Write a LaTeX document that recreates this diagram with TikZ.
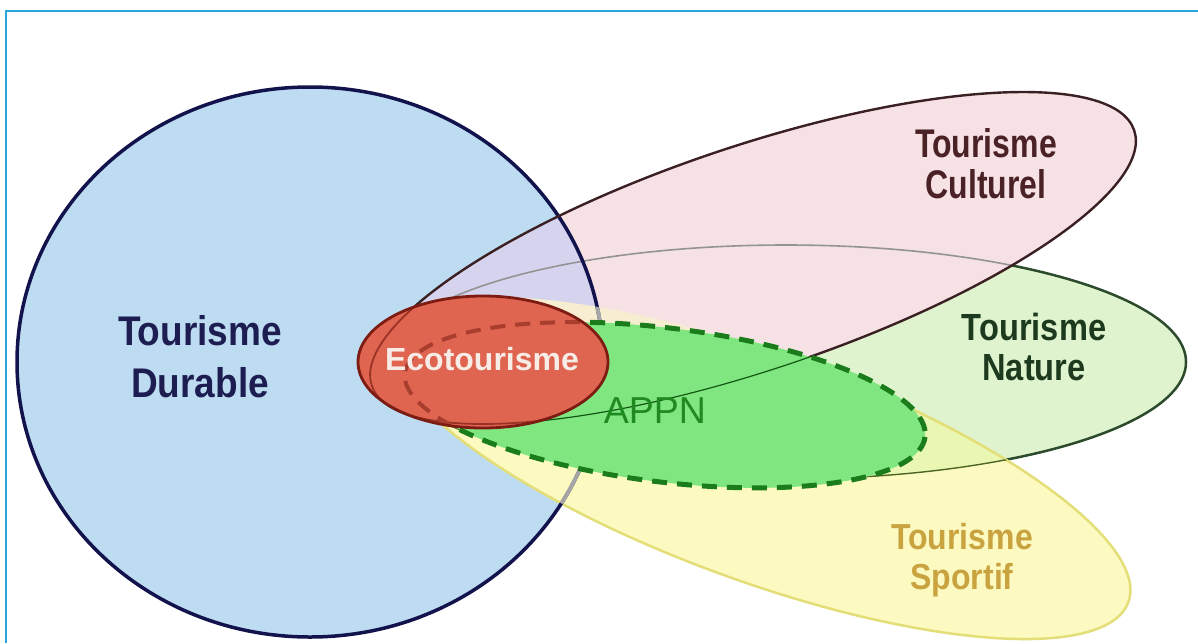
\documentclass[tikz,border=0pt]{standalone}
\usepackage{fontspec}
\setmainfont{Liberation Sans}
\usepackage{graphicx}
% fills
\definecolor{cBlue}{HTML}{BDDCF1}
\definecolor{cLav}{HTML}{D6D3EE}
\definecolor{cNat}{HTML}{DFF4CE}
\definecolor{cSport}{HTML}{FCFAC0}
\definecolor{cNatSport}{HTML}{EAF7B2}
\definecolor{cCult}{HTML}{F6E1E4}
\definecolor{cCream}{HTML}{F7EED2}
\definecolor{cAppn}{HTML}{80E780}
\definecolor{cEco}{HTML}{E06551}
% strokes
\definecolor{lBlue}{HTML}{12134C}
\definecolor{lNat}{HTML}{2C4A2C}
\definecolor{lSport}{HTML}{E4DE78}
\definecolor{lCult}{HTML}{3B2023}
\definecolor{lAppn}{HTML}{1A7C1A}
\definecolor{lEco}{HTML}{7C1C12}
\definecolor{lFrame}{HTML}{2AA6DF}
% labels
\definecolor{tDur}{HTML}{1D1D52}
\definecolor{tCult}{HTML}{4A2226}
\definecolor{tNat}{HTML}{1E3A1E}
\definecolor{tSport}{HTML}{C9A33F}
\definecolor{tEco}{HTML}{F8ECE6}
\definecolor{tAppn}{HTML}{1F8A1F}

\begin{document}
\begin{tikzpicture}[x=1pt,y=-1pt,
  cultT/.style={rotate around={18.5:(753,258)}},
  sportT/.style={rotate around={-20:(760,468)}},
  appnT/.style={rotate around={-7:(665,405)}},
  blueline/.style={draw=lBlue,line width=3.5},
  bluegrey/.style={draw=black!35,line width=3.8},
  natline/.style={draw=lNat,line width=2.5},
  natthin/.style={draw=lNat!85!yellow,line width=1.4},
  natgrey/.style={draw=black!42,line width=1.6},
  sportline/.style={draw=lSport,line width=2.5},
  cultline/.style={draw=lCult,line width=2.4},
  cultthin/.style={draw=lAppn!70!black,line width=1.2},
  appnline/.style={draw=lAppn,line width=5,dash pattern=on 15 off 10},
  ecoline/.style={draw=lEco,line width=2.8},
  ecoghost/.style={draw=lEco!70!cEco,line width=1.8},
  ecoghostdash/.style={draw=lEco!55!cEco,line width=4,dash pattern=on 15 off 10},
  frame/.style={draw=lFrame,line width=2.5},
  lab/.style={inner sep=0pt,anchor=base},
  big/.style={font=\fontsize{#1}{#1}\selectfont\bfseries},
]
\def\pBlue{(310,362) ellipse [x radius=293, y radius=275]}
\def\pNat{(786,362) ellipse [x radius=400, y radius=117]}
\def\pCult{(753,258) ellipse [x radius=402, y radius=112]}
\def\pSport{(760,468) ellipse [x radius=392, y radius=113]}
\def\pAppn{(665,405) ellipse [x radius=262, y radius=77]}
\def\pEco{(483,362) ellipse [x radius=125, y radius=66]}

\useasboundingbox (0,0) rectangle (1198,643);
\fill[white] (0,0) rectangle (1198,643);

% Tourisme Durable
\fill[cBlue] \pBlue;

% Tourisme Nature
\fill[cNat] \pNat;
\draw[natline] \pNat;

% Tourisme Sportif
\fill[cSport,sportT] \pSport;
\begin{scope}
  \clip \pNat;
  \fill[cNatSport,sportT] \pSport;
\end{scope}
\draw[sportline,sportT] \pSport;
\begin{scope}
  \clip[sportT] \pSport;
  \draw[natthin] \pNat;
\end{scope}

% Tourisme Culturel
\fill[cCult,cultT] \pCult;
\begin{scope}
  \clip[cultT] \pCult;
  \fill[cLav] \pBlue;
  \fill[cCream,sportT] \pSport;
  \draw[natgrey] \pNat;
\end{scope}

% outline of the large circle, faded where the sport area covers it
\draw[blueline] \pBlue;
\begin{scope}
  \clip[sportT] \pSport;
  \draw[bluegrey] \pBlue;
\end{scope}
\draw[cultline,cultT] \pCult;

% APPN
\fill[cAppn,appnT] \pAppn;
\begin{scope}
  \clip[appnT] \pAppn;
  \draw[cultthin,cultT] \pCult;
\end{scope}
\draw[appnline,appnT] \pAppn;

% Ecotourisme
\fill[cEco] \pEco;
\begin{scope}
  \clip \pEco;
  \draw[ecoghost,cultT] \pCult;
  \draw[ecoghostdash,appnT] \pAppn;
\end{scope}
\draw[ecoline] \pEco;

% labels
\node[lab,big=37,text=tDur] (durA) at (200,345) {\scalebox{1}[1.12]{Tourisme}};
\node[lab,big=37,text=tDur] (durB) at (200,397) {\scalebox{1}[1.12]{Durable}};
\node[lab,big=32,text=tCult] (culA) at (986,157) {\scalebox{1}[1.25]{Tourisme}};
\node[lab,big=32,text=tCult] (culB) at (986,198) {\scalebox{1}[1.25]{Culturel}};
\node[lab,big=32.6,text=tNat] (natA) at (1034,340) {\scalebox{1}[1.16]{Tourisme}};
\node[lab,big=32.6,text=tNat] (natB) at (1034,380) {\scalebox{1}[1.16]{Nature}};
\node[lab,big=32,text=tSport] (spoA) at (962,549) {\scalebox{1}[1.13]{Tourisme}};
\node[lab,big=32,text=tSport] (spoB) at (962,589) {\scalebox{1}[1.13]{Sportif}};
\node[lab,big=32,text=tEco] (eco) at (482,370) {Ecotourisme};
\node[lab,font=\fontsize{37.5}{37.5}\selectfont,text=tAppn] (appn) at (655,423) {APPN};

% frame
\coordinate (ftr) at (1198,11);
\coordinate (ftl) at (6,11);
\coordinate (fbl) at (6,643);
\draw[frame] (ftr) -- (ftl) -- (fbl);
\end{tikzpicture}
\end{document}
